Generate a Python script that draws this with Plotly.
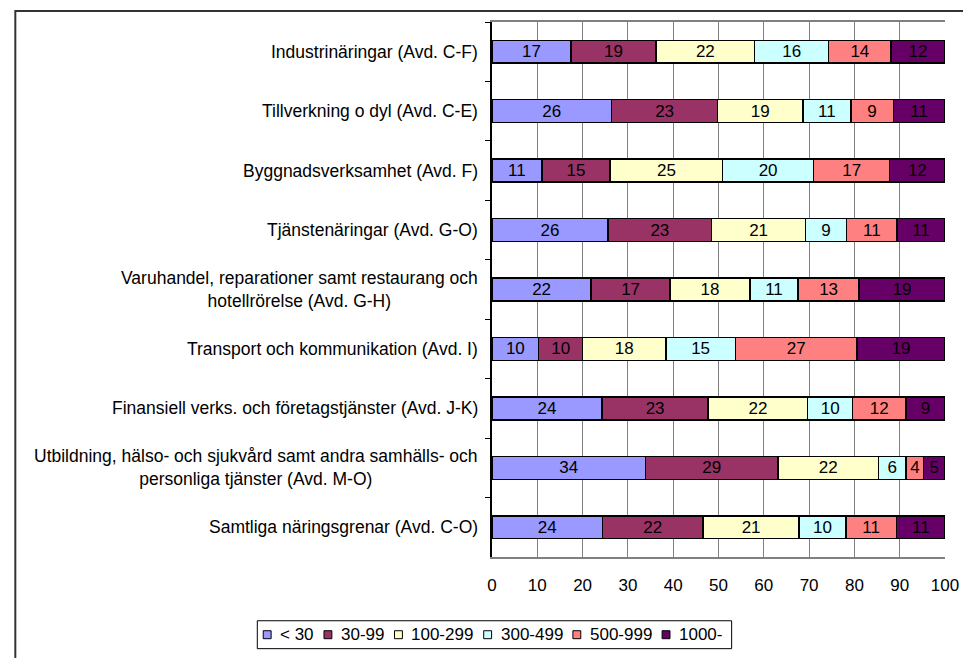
import plotly.graph_objects as go

categories = [
    "Industrinäringar (Avd. C-F)",
    "Tillverkning o dyl (Avd. C-E)",
    "Byggnadsverksamhet (Avd. F)",
    "Tjänstenäringar (Avd. G-O)",
    "Varuhandel, reparationer samt restaurang och<br>hotellrörelse (Avd. G-H)",
    "Transport och kommunikation (Avd. I)",
    "Finansiell verks. och företagstjänster (Avd. J-K)",
    "Utbildning, hälso- och sjukvård samt andra samhälls- och<br>personliga tjänster (Avd. M-O)",
    "Samtliga näringsgrenar (Avd. C-O)",
]

size_classes = ["< 30", "30-99", "100-299", "300-499", "500-999", "1000-"]

lt30 = [17.4, 26.4, 11.0, 25.6, 21.9, 10.3, 24.3, 33.9, 24.4]
s30_99 = [18.8, 23.4, 15.1, 22.9, 17.4, 9.7, 23.4, 29.2, 22.2]
s100_299 = [21.8, 18.8, 24.8, 20.7, 17.6, 18.4, 22.0, 22.2, 21.2]
s300_499 = [16.3, 10.6, 20.1, 9.1, 10.7, 15.3, 9.9, 6.1, 10.3]
s500_999 = [13.8, 9.4, 16.8, 11.1, 13.4, 26.9, 11.8, 3.9, 11.2]
s1000 = [11.9, 11.4, 12.2, 10.6, 19.0, 19.4, 8.6, 4.7, 10.7]

x_ticks = [0, 10, 20, 30, 40, 50, 60, 70, 80, 90, 100]

series = [lt30, s30_99, s100_299, s300_499, s500_999, s1000]
colors = ["#9999FF", "#993366", "#FFFFCC", "#CCFFFF", "#FF8080", "#660066"]

FONT = "Liberation Sans, Arial, sans-serif"

# page body adds an 8px margin, so the figure is sized to the visible area
W, H = 963, 650
ML, MR, MT, MB = 484, 20, 12, 101
plot_w = W - ML - MR
plot_h = H - MT - MB


def px_x(fx):
    return (fx - ML) / plot_w


def px_y(fy):
    return (MT + plot_h - fy) / plot_h


# rough Arial advance widths (per 1000 em) for legend layout
CHAR_W = {"<": 584, " ": 278, "-": 333}


def text_width(s, size):
    return sum(CHAR_W.get(c, 556) for c in s) * size / 1000


fig = go.Figure()
for name, values, color in zip(size_classes, series, colors):
    fig.add_trace(
        go.Bar(
            y=categories,
            x=values,
            name=name,
            orientation="h",
            marker=dict(color=color, line=dict(color="#000000", width=1.5)),
            texttemplate="%{x:.0f}",
            textposition="inside",
            insidetextanchor="middle",
            textangle=0,
            textfont=dict(family=FONT, size=17, color="#000000"),
            constraintext="none",
            hoverinfo="skip",
            showlegend=False,
        )
    )

# category labels as centred, right-anchored annotations
for cat in categories:
    fig.add_annotation(
        x=0, xref="paper", y=cat, yref="y",
        text=cat, showarrow=False,
        xanchor="right", yanchor="middle", align="center",
        xshift=-12,
        font=dict(family=FONT, size=17.5, color="#000000"),
    )

# outer chart frame (left and top edges visible)
fig.add_shape(
    type="rect", xref="paper", yref="paper",
    x0=px_x(1), x1=1.2,
    y0=-0.4, y1=px_y(1),
    line=dict(color="#333333", width=2), layer="below",
)

# compact Excel-style legend
LEG_FONT = 17
SYM, SYM_GAP, ITEM_GAP, PAD = 8, 17, 11, 6
widths = [text_width(s, LEG_FONT) for s in size_classes]
total = PAD + sum(SYM_GAP + w + ITEM_GAP for w in widths) - ITEM_GAP + PAD + 4
leg_cx, leg_cy, leg_h = 486.5, 627, 28
left = leg_cx - total / 2
fig.add_shape(
    type="rect", xref="paper", yref="paper",
    x0=px_x(left), x1=px_x(left + total),
    y0=px_y(leg_cy + leg_h / 2), y1=px_y(leg_cy - leg_h / 2),
    line=dict(color="#000000", width=1), fillcolor="white",
)
cursor = left + PAD
for name, color, w in zip(size_classes, colors, widths):
    fig.add_shape(
        type="rect", xref="paper", yref="paper",
        x0=px_x(cursor), x1=px_x(cursor + SYM),
        y0=px_y(leg_cy + SYM / 2), y1=px_y(leg_cy - SYM / 2),
        line=dict(color="#000000", width=1), fillcolor=color,
    )
    fig.add_annotation(
        x=px_x(cursor + SYM_GAP - 2), xref="paper",
        y=px_y(leg_cy), yref="paper",
        text=name, showarrow=False,
        xanchor="left", yanchor="middle",
        font=dict(family=FONT, size=LEG_FONT, color="#000000"),
    )
    cursor += SYM_GAP + w + ITEM_GAP

fig.update_layout(
    width=W,
    height=H,
    margin=dict(l=ML, r=MR, t=MT, b=MB),
    barmode="stack",
    bargap=0.615,
    paper_bgcolor="white",
    plot_bgcolor="white",
    font=dict(family=FONT, size=16, color="#000000"),
    showlegend=False,
)

fig.update_xaxes(
    range=[0, 100],
    tickvals=x_ticks,
    showgrid=True,
    gridcolor="#808080",
    gridwidth=1,
    showline=True,
    linecolor="#808080",
    linewidth=1.5,
    mirror=True,
    ticks="",
    ticklabelstandoff=12,
    tickfont=dict(family=FONT, size=17, color="#000000"),
    zeroline=False,
    fixedrange=True,
)
fig.update_yaxes(
    autorange="reversed",
    showticklabels=False,
    showgrid=False,
    showline=True,
    linecolor="#000000",
    linewidth=1.5,
    ticks="outside",
    tickson="boundaries",
    ticklen=5,
    tickcolor="#000000",
    zeroline=False,
    fixedrange=True,
)

fig.write_html("out.html")
